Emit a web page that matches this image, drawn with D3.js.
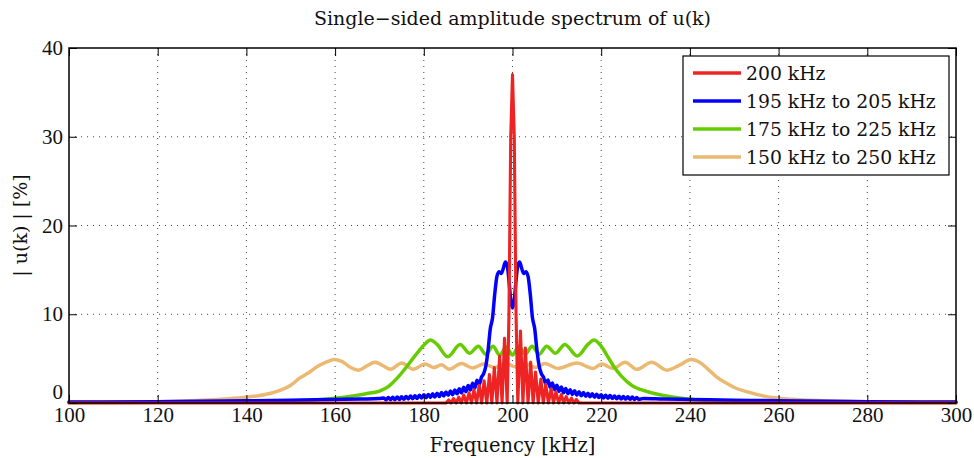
<!DOCTYPE html>
<html>
<head>
<meta charset="utf-8">
<script src="https://cdnjs.cloudflare.com/ajax/libs/d3/7.8.5/d3.min.js"></script>
<style>
  body { margin: 0; background: #fff; }
  svg { display: block; }
  .tickText { font-family: "Liberation Serif", serif; font-size: 21px; fill: #111; }
  .labelText { font-family: "DejaVu Serif", serif; fill: #111; }
</style>
</head>
<body>
<div id="chart"></div>
<script>
// [frequency kHz, amplitude %]
var spec200 = [[100,0],[185.0,0],[185.6,0.35],[186.15,0],[186.7,0.5],[187.3,0],[187.9,0.65],[188.45,0],[189.0,0.9],
  [189.6,0],[190.2,1.15],[190.75,0],[191.3,1.5],[191.9,0],[192.5,2.0],[193.05,0],[193.6,2.5],[194.2,0],[194.8,3.2],
  [195.35,0],[195.9,4.0],[196.5,0],[197.1,5.3],[197.65,0],[198.2,7.3],[198.8,0],
  [199.2,10],[199.6,30],[200,37],[200.4,30],[200.8,10],
  [201.2,0],[201.8,8.1],[202.35,0],[202.9,6.2],[203.5,0],[204.1,4.6],[204.65,0],[205.2,3.5],[205.8,0],[206.4,2.7],
  [206.95,0],[207.5,2.1],[208.1,0],[208.7,1.6],[209.25,0],[209.8,1.25],[210.4,0],[211.0,0.95],[211.55,0],[212.1,0.72],
  [212.7,0],[213.3,0.55],[213.85,0],[214.4,0.4],[215.0,0],[300,0]];

var spec195 = [[100,0.1],[120,0.15],[140,0.25],[150,0.32],[160,0.4],[166,0.45],[170,0.5],[171,0.56],[171.5,0.35],
  [172,0.62],[172.5,0.36],[173,0.64],[173.5,0.38],[174,0.67],[174.5,0.4],[175,0.7],[175.5,0.42],[176,0.74],[176.5,0.45],
  [177,0.78],[177.5,0.48],[178,0.82],[178.5,0.51],[179,0.87],[179.5,0.55],[180,0.92],[180.5,0.59],[181,0.97],[181.5,0.63],
  [182,1.03],[182.5,0.68],[183,1.1],[183.5,0.73],[184,1.17],[184.5,0.79],[185,1.25],[185.5,0.86],[186,1.35],[186.5,0.94],
  [187,1.47],[187.5,1.03],[188,1.61],[188.5,1.14],[189,1.77],[189.5,1.28],[190,1.97],[190.5,1.46],[191,2.22],[191.5,1.7],
  [192,2.55],[192.5,2.1],
  [193,2.9],[193.5,3.3],[194,4.2],[194.5,6.0],[195,8.4],[195.5,9.6],[196,12.3],[196.5,14.3],[197,14.8],[197.5,14.6],
  [198,15.3],[198.4,15.9],[198.8,15.5],[199.2,13.8],[199.6,11.6],[200,10.7],[200.4,11.6],[200.8,13.8],[201.2,15.5],
  [201.6,15.9],[202,15.3],[202.5,14.6],[203,14.8],[203.5,14.3],[204,12.3],[204.5,9.6],[205,8.4],[205.5,6.0],[206,4.2],
  [206.5,3.3],[207,2.9],
  [207.5,2.15],[208,2.6],[208.5,1.75],[209,2.25],[209.5,1.5],[210,2.0],[210.5,1.3],[211,1.8],[211.5,1.15],[212,1.63],
  [212.5,1.05],[213,1.5],[213.5,0.96],[214,1.38],[214.5,0.88],[215,1.28],[215.5,0.81],[216,1.19],[216.5,0.75],[217,1.11],
  [217.5,0.7],[218,1.04],[218.5,0.65],[219,0.98],[219.5,0.61],[220,0.93],[220.5,0.57],[221,0.88],[221.5,0.54],[222,0.84],
  [222.5,0.51],[223,0.8],[223.5,0.48],[224,0.76],[224.5,0.46],[225,0.73],[225.5,0.44],[226,0.7],[226.5,0.42],[227,0.67],
  [227.5,0.4],[228,0.62],[228.5,0.4],[229.5,0.52],
  [234,0.45],[240,0.4],[250,0.32],[260,0.25],[280,0.15],[300,0.1]];

var spec175 = [[100,0.05],[120,0.08],[140,0.15],[150,0.25],[155,0.35],[160,0.55],[164,0.8],[167,1.05],[170,1.35],
  [172,1.85],[174,2.8],[176,4.0],[178,5.3],[180,6.5],[181.5,7.1],[183,6.6],[185.4,5.2],[188.2,6.6],[190.3,5.6],
  [192.3,6.4],[194,5.5],[195.6,6.4],[197.1,5.4],[198.6,6.3],[200,5.4],[201.4,6.4],[202.9,5.5],[204.4,6.4],[206,5.5],
  [207.7,6.4],[209.7,5.6],[211.8,6.6],[214.6,5.3],[217,6.6],[218.4,7.1],[220,6.4],[221.5,5.2],[223,4.0],[224.6,3.0],
  [227,1.95],[229,1.5],[231,1.2],[234,0.85],[238,0.55],[242,0.35],[250,0.2],[260,0.12],[280,0.08],[300,0.05]];

var spec150 = [[100,0.1],[110,0.12],[120,0.15],[125,0.2],[130,0.3],[135,0.45],[140,0.65],[143,0.85],[145.5,1.1],
  [148,1.5],[150,2.0],[152,2.8],[154,3.4],[156,4.1],[158,4.6],[159.8,4.9],[161.5,4.7],[163.5,4.0],[165.3,3.7],
  [167.2,4.2],[169,4.6],[170.8,4.2],[172.5,3.8],[175,4.5],[177.6,3.8],[180.3,4.4],[182.3,4.0],[184,4.3],[185.7,3.8],
  [188.5,4.45],[191,3.95],[193.5,4.4],[196,4.0],[198.5,4.45],[200.8,4.05],[203,4.4],[205.2,4.0],[207.3,4.45],
  [210.3,3.9],[214.5,4.5],[218.2,3.9],[220.1,4.4],[222.7,3.9],[225.4,4.6],[228,3.8],[231.4,4.6],[234.8,3.7],
  [237.8,4.3],[240.3,4.9],[242,4.65],[244,3.85],[246,2.95],[248,2.3],[250,1.75],[253,1.25],[257,0.75],[263,0.42],
  [270,0.25],[280,0.15],[300,0.1]];

var seriesNames = ["200 kHz", "195 kHz to 205 kHz", "175 kHz to 225 kHz", "150 kHz to 250 kHz"];
var xTicks = [100, 120, 140, 160, 180, 200, 220, 240, 260, 280, 300];
var yTicks = [0, 10, 20, 30, 40];

var chartTitle = "Single\u2212sided amplitude spectrum of u(k)";
var xTitle = "Frequency [kHz]";
var yTitle = "| u(k) | [%]";

var series = [
  {name: seriesNames[0], data: spec200, color: "#ee2424", width: 3.1},
  {name: seriesNames[1], data: spec195, color: "#0000ff", width: 3.5},
  {name: seriesNames[2], data: spec175, color: "#66cc00", width: 3.5},
  {name: seriesNames[3], data: spec150, color: "#ebb971", width: 3.5}
];

var w = 974, h = 458,
    marginTop = 48, marginBottom = 55, marginLeft = 69, marginRight = 18,
    contentsWidth = w - marginLeft - marginRight, contentsHeight = h - marginTop - marginBottom;

var svg = d3.select("div#chart")
    .append("svg")
    .attr("width", w)
    .attr("height", h);

var g = svg.append("g")
    .attr("transform", "translate(" + marginLeft + ", " + marginTop + ")");

var xScale = d3.scaleLinear().domain([100, 300]).range([0, contentsWidth]);
var yScale = d3.scaleLinear().domain([0, 40]).range([contentsHeight, 0]);

// dotted grid
g.append("g")
    .selectAll("line")
    .data(xTicks.slice(1, -1))
    .enter()
    .append("line")
    .attr("x1", function(d) { return xScale(d); })
    .attr("x2", function(d) { return xScale(d); })
    .attr("y1", 0)
    .attr("y2", contentsHeight)
    .attr("stroke", "#444")
    .attr("stroke-width", 1)
    .attr("stroke-dasharray", "1,5");

g.append("g")
    .selectAll("line")
    .data(yTicks.slice(1, -1))
    .enter()
    .append("line")
    .attr("x1", 0)
    .attr("x2", contentsWidth)
    .attr("y1", function(d) { return yScale(d); })
    .attr("y2", function(d) { return yScale(d); })
    .attr("stroke", "#444")
    .attr("stroke-width", 1)
    .attr("stroke-dasharray", "1,5");

// spectra, last legend entry at the bottom
var line = d3.line()
    .x(function(d) { return xScale(d[0]); })
    .y(function(d) { return yScale(d[1]); });

g.append("g")
    .attr("class", "contentContainer")
    .selectAll("path")
    .data(series.slice().reverse())
    .enter()
    .append("path")
    .attr("d", function(d) {
      return line.curve(d.data === spec200 ? d3.curveLinear : d3.curveMonotoneX)(d.data);
    })
    .attr("fill", "none")
    .attr("stroke", function(d) { return d.color; })
    .attr("stroke-width", function(d) { return d.width; })
    .attr("stroke-linejoin", "round")
    .attr("stroke-linecap", "round");

// axes, ticks pointing inward on all sides
var xAxis = d3.axisBottom(xScale).tickValues(xTicks).tickSize(-8).tickSizeOuter(0).tickPadding(4);
var yAxis = d3.axisLeft(yScale).tickValues(yTicks).tickSize(-8).tickSizeOuter(0).tickPadding(6);
var xAxisTop = d3.axisTop(xScale).tickValues(xTicks).tickSize(-8).tickSizeOuter(0).tickFormat("");
var yAxisRight = d3.axisRight(yScale).tickValues(yTicks).tickSize(-8).tickSizeOuter(0).tickFormat("");

g.append("g")
    .attr("class", "x axis")
    .attr("transform", "translate(0, " + contentsHeight + ")")
    .call(xAxis);
g.append("g")
    .attr("class", "y axis")
    .call(yAxis);
g.append("g").call(xAxisTop);
g.append("g")
    .attr("transform", "translate(" + contentsWidth + ", 0)")
    .call(yAxisRight);

g.selectAll(".domain").remove();
g.selectAll(".tick line").attr("stroke", "#000").attr("stroke-width", 1);
g.selectAll(".axis .tick text")
    .attr("class", "tickText");
svg.selectAll("g.axis").attr("font-family", null).attr("font-size", null);

// the zero label sits a little higher, clear of the "100"
g.selectAll(".y.axis .tick text")
    .filter(function(d) { return d === 0; })
    .attr("dy", "-0.2em");

g.append("rect")
    .attr("x", 0)
    .attr("y", 0)
    .attr("width", contentsWidth)
    .attr("height", contentsHeight)
    .attr("fill", "none")
    .attr("stroke", "#000")
    .attr("stroke-width", 1.5);

// titles
svg.append("text")
    .attr("class", "labelText")
    .attr("x", marginLeft + contentsWidth / 2)
    .attr("y", 25)
    .attr("text-anchor", "middle")
    .attr("font-size", 19)
    .text(chartTitle);

svg.append("text")
    .attr("class", "labelText")
    .attr("x", marginLeft + contentsWidth / 2)
    .attr("y", 452)
    .attr("text-anchor", "middle")
    .attr("font-size", 19.5)
    .text(xTitle);

svg.append("text")
    .attr("class", "labelText")
    .attr("transform", "translate(27, " + (marginTop + contentsHeight / 2) + ") rotate(-90)")
    .attr("text-anchor", "middle")
    .attr("font-size", 19)
    .text(yTitle);

// legend
var legend = g.append("g")
    .attr("transform", "translate(" + (683 - marginLeft) + ", " + (56 - marginTop) + ")");

legend.append("rect")
    .attr("width", 266)
    .attr("height", 119)
    .attr("fill", "#fff")
    .attr("stroke", "#000")
    .attr("stroke-width", 1.2);

var item = legend.selectAll("g.item")
    .data(series)
    .enter()
    .append("g")
    .attr("class", "item")
    .attr("transform", function(d, i) { return "translate(0, " + (17 + i * 28) + ")"; });

item.append("line")
    .attr("x1", 10)
    .attr("x2", 58)
    .attr("stroke", function(d) { return d.color; })
    .attr("stroke-width", 3.5);

item.append("text")
    .attr("class", "labelText")
    .attr("x", 63)
    .attr("dy", "0.36em")
    .attr("font-size", 18.8)
    .text(function(d) { return d.name; });
</script>
</body>
</html>
